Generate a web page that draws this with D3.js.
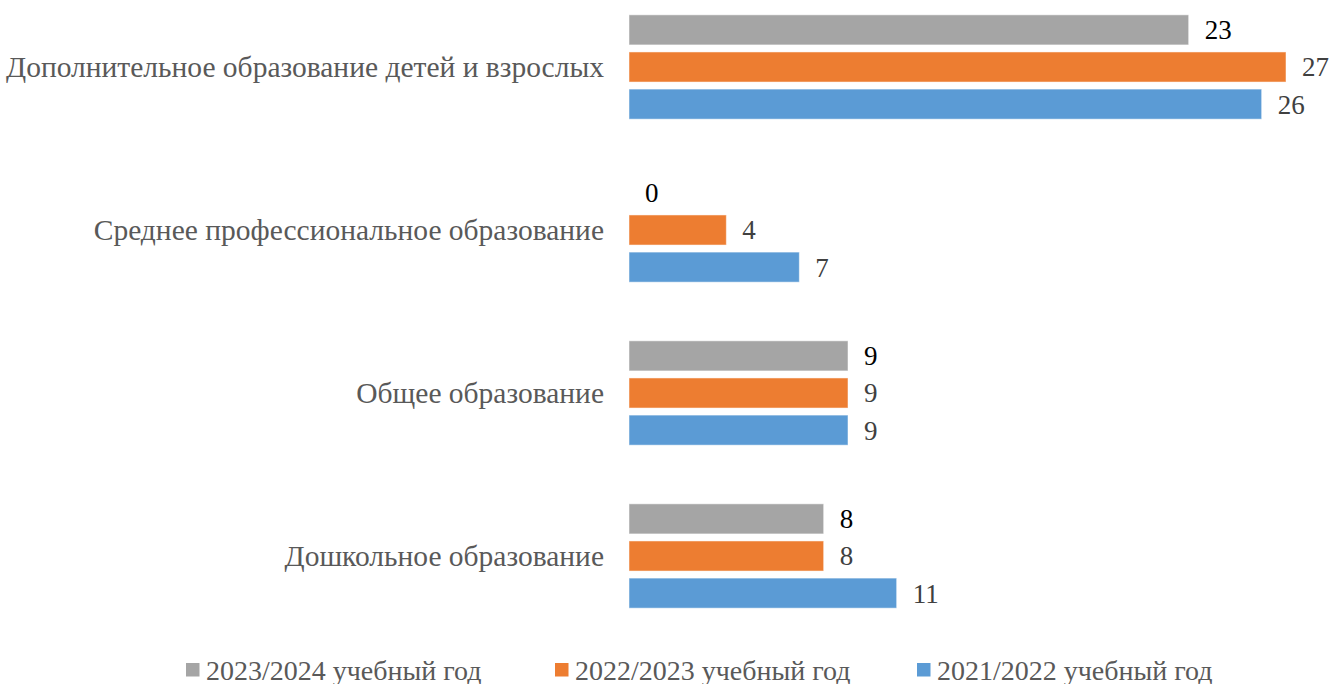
<!DOCTYPE html>
<html><head><meta charset="utf-8">
<script src="https://cdn.jsdelivr.net/npm/d3@7"></script>
<style>
html,body{margin:0;padding:0;background:#fff;overflow:hidden}
text{font-family:"Liberation Serif","Times New Roman",serif}
</style></head>
<body>
<svg id="chart" width="1331" height="684"></svg>
<script>
const categories = ["Дополнительное образование детей и взрослых","Среднее профессиональное образование","Общее образование","Дошкольное образование"];
const seriesNames = ["2023/2024 учебный год","2022/2023 учебный год","2021/2022 учебный год"];
const values2023 = [23, 0, 9, 8];
const values2022 = [27, 4, 9, 8];
const values2021 = [26, 7, 9, 11];
const seriesColors = ["#A5A5A5","#ED7D31","#5B9BD5"];
const labelColors = ["#000000","#404040","#404040"];

const series = [values2023, values2022, values2021];
const svg = d3.select("#chart");
const x = d3.scaleLinear().domain([0, 27]).range([629, 1286]);
const y0 = d3.scaleBand().domain(categories).range([-14.5, 637.5]).paddingInner(0.36).paddingOuter(0.18);
const y1 = d3.scaleBand().domain(d3.range(3)).range([0, y0.bandwidth()]).paddingInner(0.19);

const g = svg.append("g");
categories.forEach((c, ci) => {
  const gy = y0(c);
  series.forEach((vals, si) => {
    const v = vals[ci];
    const by = gy + y1(si);
    if (v > 0) {
      g.append("rect").attr("x", x(0)).attr("y", by).attr("width", x(v) - x(0)).attr("height", y1.bandwidth())
        .attr("fill", seriesColors[si]).attr("stroke", "#fff").attr("stroke-opacity", 0.5).attr("stroke-width", 1);
    }
    g.append("text").attr("x", x(v) + 16).attr("y", by + y1.bandwidth() / 2).attr("dy", "0.35em")
      .attr("font-size", 27).attr("fill", labelColors[si]).text(v);
  });
  g.append("text").attr("x", 604).attr("y", gy + y0.bandwidth() / 2).attr("dy", "0.35em")
    .attr("text-anchor", "end").attr("font-size", 29.5).attr("fill", "#595959").text(c);
});

const legendX = [186, 555, 917];
const leg = svg.append("g");
seriesNames.forEach((n, i) => {
  leg.append("rect").attr("x", legendX[i]).attr("y", 663).attr("width", 13.5).attr("height", 13.5).attr("fill", seriesColors[i]);
  leg.append("text").attr("x", legendX[i] + 20).attr("y", 680).attr("font-size", 28).attr("fill", "#595959").text(n);
});
</script>
</body></html>
